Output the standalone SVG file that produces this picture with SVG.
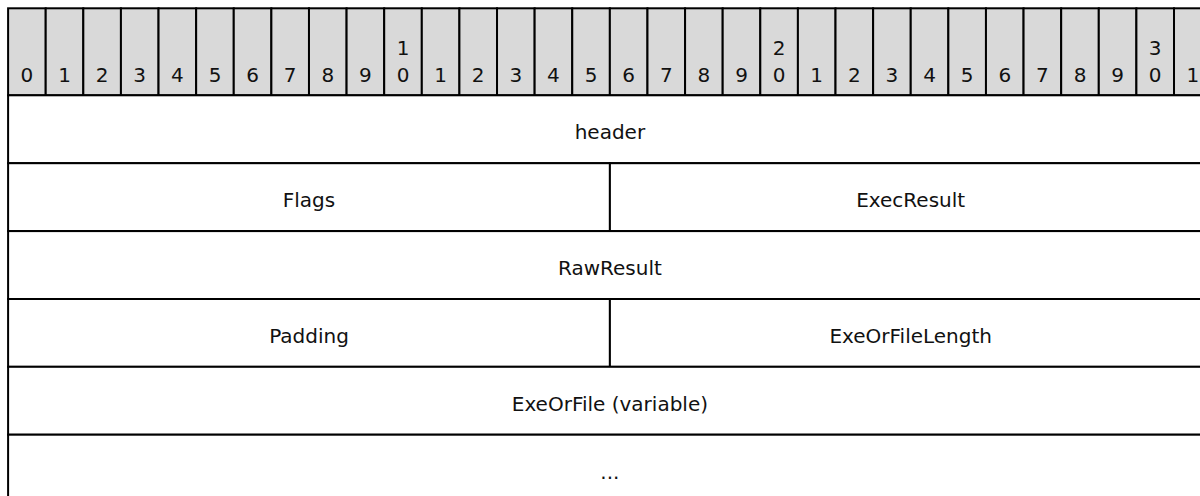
<svg xmlns="http://www.w3.org/2000/svg" width="1200" height="496" viewBox="0 0 1200 496">
<style>
.bit{fill:#d9d9d9;stroke:#000;stroke-width:2}
.cell{fill:#fff;stroke:#000;stroke-width:2}
text{font-family:"DejaVu Sans",Verdana,sans-serif;font-size:20px;fill:#111;text-anchor:middle}
</style>
<rect width="1200" height="496" fill="#fff"/>
<g id="bits">
<rect class="bit" x="8.1" y="8.3" width="37.61" height="87"/><text x="26.9" y="82">0</text>
<rect class="bit" x="45.71" y="8.3" width="37.61" height="87"/><text x="64.5" y="82">1</text>
<rect class="bit" x="83.32" y="8.3" width="37.61" height="87"/><text x="102.1" y="82">2</text>
<rect class="bit" x="120.93" y="8.3" width="37.61" height="87"/><text x="139.7" y="82">3</text>
<rect class="bit" x="158.54" y="8.3" width="37.61" height="87"/><text x="177.3" y="82">4</text>
<rect class="bit" x="196.15" y="8.3" width="37.61" height="87"/><text x="215" y="82">5</text>
<rect class="bit" x="233.76" y="8.3" width="37.61" height="87"/><text x="252.6" y="82">6</text>
<rect class="bit" x="271.37" y="8.3" width="37.61" height="87"/><text x="290.2" y="82">7</text>
<rect class="bit" x="308.98" y="8.3" width="37.61" height="87"/><text x="327.8" y="82">8</text>
<rect class="bit" x="346.59" y="8.3" width="37.61" height="87"/><text x="365.4" y="82">9</text>
<rect class="bit" x="384.2" y="8.3" width="37.61" height="87"/><text x="403" y="55">1</text><text x="403" y="82">0</text>
<rect class="bit" x="421.81" y="8.3" width="37.61" height="87"/><text x="440.6" y="82">1</text>
<rect class="bit" x="459.42" y="8.3" width="37.61" height="87"/><text x="478.2" y="82">2</text>
<rect class="bit" x="497.03" y="8.3" width="37.61" height="87"/><text x="515.8" y="82">3</text>
<rect class="bit" x="534.64" y="8.3" width="37.61" height="87"/><text x="553.4" y="82">4</text>
<rect class="bit" x="572.25" y="8.3" width="37.61" height="87"/><text x="591.1" y="82">5</text>
<rect class="bit" x="609.86" y="8.3" width="37.61" height="87"/><text x="628.7" y="82">6</text>
<rect class="bit" x="647.47" y="8.3" width="37.61" height="87"/><text x="666.3" y="82">7</text>
<rect class="bit" x="685.08" y="8.3" width="37.61" height="87"/><text x="703.9" y="82">8</text>
<rect class="bit" x="722.69" y="8.3" width="37.61" height="87"/><text x="741.5" y="82">9</text>
<rect class="bit" x="760.3" y="8.3" width="37.61" height="87"/><text x="779.1" y="55">2</text><text x="779.1" y="82">0</text>
<rect class="bit" x="797.91" y="8.3" width="37.61" height="87"/><text x="816.7" y="82">1</text>
<rect class="bit" x="835.52" y="8.3" width="37.61" height="87"/><text x="854.3" y="82">2</text>
<rect class="bit" x="873.13" y="8.3" width="37.61" height="87"/><text x="891.9" y="82">3</text>
<rect class="bit" x="910.74" y="8.3" width="37.61" height="87"/><text x="929.5" y="82">4</text>
<rect class="bit" x="948.35" y="8.3" width="37.61" height="87"/><text x="967.2" y="82">5</text>
<rect class="bit" x="985.96" y="8.3" width="37.61" height="87"/><text x="1004.8" y="82">6</text>
<rect class="bit" x="1023.57" y="8.3" width="37.61" height="87"/><text x="1042.4" y="82">7</text>
<rect class="bit" x="1061.18" y="8.3" width="37.61" height="87"/><text x="1080" y="82">8</text>
<rect class="bit" x="1098.79" y="8.3" width="37.61" height="87"/><text x="1117.6" y="82">9</text>
<rect class="bit" x="1136.4" y="8.3" width="37.61" height="87"/><text x="1155.2" y="55">3</text><text x="1155.2" y="82">0</text>
<rect class="bit" x="1174.01" y="8.3" width="37.61" height="87"/><text x="1192.8" y="82">1</text>
</g>
<g id="header">
<rect class="cell" x="8.1" y="95.3" width="1203.5" height="67.9"/><text x="609.9" y="139">header</text>
</g>
<g id="flags">
<rect class="cell" x="8.1" y="163.2" width="601.8" height="67.9"/><text x="309" y="207">Flags</text>
</g>
<g id="execresult">
<rect class="cell" x="609.9" y="163.2" width="601.8" height="67.9"/><text x="910.7" y="207">ExecResult</text>
</g>
<g id="rawresult">
<rect class="cell" x="8.1" y="231.1" width="1203.5" height="67.9"/><text x="609.9" y="275">RawResult</text>
</g>
<g id="padding">
<rect class="cell" x="8.1" y="299" width="601.8" height="67.8"/><text x="309" y="343">Padding</text>
</g>
<g id="exeorfilelength">
<rect class="cell" x="609.9" y="299" width="601.8" height="67.8"/><text x="910.7" y="343">ExeOrFileLength</text>
</g>
<g id="exeorfile">
<rect class="cell" x="8.1" y="366.8" width="1203.5" height="67.9"/><text x="609.9" y="411">ExeOrFile (variable)</text>
</g>
<g id="more">
<rect class="cell" x="8.1" y="434.7" width="1203.5" height="67.9"/><text x="609.9" y="479">...</text>
</g>
<g id="connectors"/>
</svg>
